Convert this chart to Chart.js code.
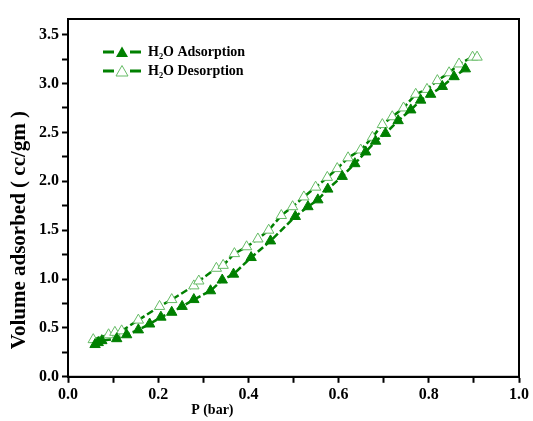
<!DOCTYPE html>
<html>
<head>
<meta charset="utf-8">
<script src="https://cdn.jsdelivr.net/npm/chart.js@4.4.1/dist/chart.umd.min.js"></script>
<style>
  html, body { margin: 0; padding: 0; background: #fff; }
  #wrap { width: 533px; height: 421px; }
</style>
</head>
<body>
<div id="wrap"><canvas id="isoChart"></canvas></div>
<script>
// adsorption branch (filled triangles)
const adsP = [0.06, 0.067, 0.075, 0.108, 0.13, 0.156, 0.181, 0.206, 0.23, 0.253, 0.279, 0.316, 0.342, 0.367,
  0.406, 0.449, 0.504, 0.532, 0.554, 0.576, 0.608, 0.636, 0.66, 0.682, 0.704, 0.732, 0.76, 0.782, 0.804,
  0.83, 0.856, 0.881];
const adsV = [0.33, 0.35, 0.37, 0.39, 0.43, 0.48, 0.54, 0.61, 0.66, 0.72, 0.79, 0.88, 0.99, 1.05,
  1.22, 1.39, 1.64, 1.74, 1.81, 1.92, 2.05, 2.18, 2.3, 2.41, 2.49, 2.62, 2.73, 2.83, 2.89,
  2.97, 3.07, 3.15];

// desorption branch (open triangles)
const desP = [0.056, 0.09, 0.104, 0.119, 0.156, 0.203, 0.23, 0.279, 0.29, 0.329, 0.344, 0.369, 0.396,
  0.421, 0.445, 0.473, 0.498, 0.523, 0.549, 0.575, 0.597, 0.621, 0.649, 0.675, 0.697, 0.719, 0.744,
  0.771, 0.796, 0.819, 0.845, 0.867, 0.897, 0.907];
const desV = [0.38, 0.43, 0.455, 0.47, 0.58, 0.72, 0.79, 0.93, 0.98, 1.11, 1.14, 1.26, 1.33,
  1.41, 1.5, 1.65, 1.74, 1.84, 1.94, 2.04, 2.13, 2.24, 2.32, 2.45, 2.58, 2.66, 2.75,
  2.89, 2.94, 3.03, 3.11, 3.2, 3.27, 3.27];

const seriesNames = ['H\u2082O Adsorption', 'H\u2082O Desorption'];
const xTicks = [0, 0.1, 0.2, 0.3, 0.4, 0.5, 0.6, 0.7, 0.8, 0.9, 1.0];
const yTicks = [0, 0.25, 0.5, 0.75, 1.0, 1.25, 1.5, 1.75, 2.0, 2.25, 2.5, 2.75, 3.0, 3.25, 3.5];

const green = '#008000';
const lightGreen = '#66bb66';
const serif = "'Liberation Serif', 'Times New Roman', serif";

function toPoints(xs, ys) {
  return xs.map((x, i) => ({ x: x, y: ys[i] }));
}

// small "—▲—" marker for the legend
function legendMark(filled) {
  const c = document.createElement('canvas');
  c.width = 38; c.height = 14;
  const g = c.getContext('2d');
  g.strokeStyle = green;
  g.lineWidth = 3;
  g.beginPath(); g.moveTo(0, 7); g.lineTo(11, 7); g.moveTo(27, 7); g.lineTo(38, 7); g.stroke();
  g.beginPath(); g.moveTo(19, 1.5); g.lineTo(25, 12); g.lineTo(13, 12); g.closePath();
  if (filled) { g.fillStyle = green; g.fill(); }
  else { g.fillStyle = '#fff'; g.fill(); g.strokeStyle = lightGreen; g.lineWidth = 1; g.stroke(); }
  return c;
}
const marks = [legendMark(true), legendMark(false)];

// box around the plot, axis titles, and legend placed inside the plot
const framePlugin = {
  id: 'frame',
  afterLayout(chart) {
    const a = chart.chartArea, lg = chart.legend;
    if (lg) {
      const w = lg.width, h = lg.height;
      lg.left = a.left + 30; lg.top = a.top + 21;
      lg.right = lg.left + w; lg.bottom = lg.top + h;
    }
  },
  afterDraw(chart) {
    const a = chart.chartArea, ctx = chart.ctx;
    ctx.save();
    ctx.strokeStyle = '#000';
    ctx.lineWidth = 2;
    ctx.strokeRect(a.left, a.top, a.right - a.left, a.bottom - a.top);
    ctx.fillStyle = '#000';
    ctx.textAlign = 'center';
    ctx.textBaseline = 'middle';
    ctx.font = 'bold 14px ' + serif;
    ctx.fillText('P (bar)', chart.scales.x.getPixelForValue(0.32), 410);
    ctx.translate(20, chart.scales.y.getPixelForValue(1.5));
    ctx.rotate(-Math.PI / 2);
    ctx.font = 'bold 21px ' + serif;
    ctx.fillText('Volume adsorbed ( cc/gm )', 0, 0);
    ctx.restore();
  }
};

const ctx = document.getElementById('isoChart').getContext('2d');
new Chart(ctx, {
  type: 'line',
  data: {
    datasets: [{
      label: seriesNames[0],
      data: toPoints(adsP, adsV),
      borderColor: green,
      backgroundColor: green,
      borderWidth: 2.5,
      borderDash: [7, 3],
      pointStyle: 'triangle',
      pointRadius: 6,
      pointBackgroundColor: green,
      pointBorderColor: green,
      pointBorderWidth: 1
    }, {
      label: seriesNames[1],
      data: toPoints(desP, desV),
      borderColor: green,
      backgroundColor: '#fff',
      borderWidth: 2.5,
      borderDash: [7, 3],
      pointStyle: 'triangle',
      pointRadius: 6,
      pointBackgroundColor: '#fff',
      pointBorderColor: lightGreen,
      pointBorderWidth: 1
    }]
  },
  options: {
    responsive: true,
    maintainAspectRatio: false,
    animation: false,
    layout: { padding: { left: 36, right: 14, top: 19, bottom: 15 } },
    plugins: {
      tooltip: { enabled: false },
      legend: {
        position: 'chartArea',
        align: 'start',
        labels: {
          usePointStyle: true,
          pointStyleWidth: 38,
          padding: 5,
          color: '#000',
          font: { family: serif, size: 14, weight: 'bold' },
          generateLabels(chart) {
            return chart.data.datasets.map((ds, i) => ({
              text: ds.label,
              pointStyle: marks[i],
              datasetIndex: i,
              fontColor: '#000',
              lineWidth: 0,
              strokeStyle: 'transparent',
              fillStyle: 'transparent'
            }));
          }
        }
      }
    },
    scales: {
      x: {
        type: 'linear',
        min: 0,
        max: 1,
        afterBuildTicks(scale) { scale.ticks = xTicks.map(v => ({ value: v })); },
        ticks: {
          color: '#000',
          font: { family: serif, size: 16, weight: 'bold' },
          padding: 2,
          maxRotation: 0,
          autoSkip: false,
          callback: (v, i) => (i % 2 === 0 ? v.toFixed(1) : '')
        },
        grid: { drawOnChartArea: false, drawTicks: true, tickLength: 6, tickColor: '#000', tickWidth: 2 },
        border: { color: '#000', width: 2 }
      },
      y: {
        type: 'linear',
        min: 0,
        max: 3.66,
        afterBuildTicks(scale) { scale.ticks = yTicks.map(v => ({ value: v })); },
        ticks: {
          color: '#000',
          font: { family: serif, size: 16, weight: 'bold' },
          padding: 3,
          autoSkip: false,
          callback: (v, i) => (i % 2 === 0 ? v.toFixed(1) : '')
        },
        grid: { drawOnChartArea: false, drawTicks: true, tickLength: 6, tickColor: '#000', tickWidth: 2 },
        border: { color: '#000', width: 2 }
      }
    }
  },
  plugins: [framePlugin]
});
</script>
</body>
</html>
